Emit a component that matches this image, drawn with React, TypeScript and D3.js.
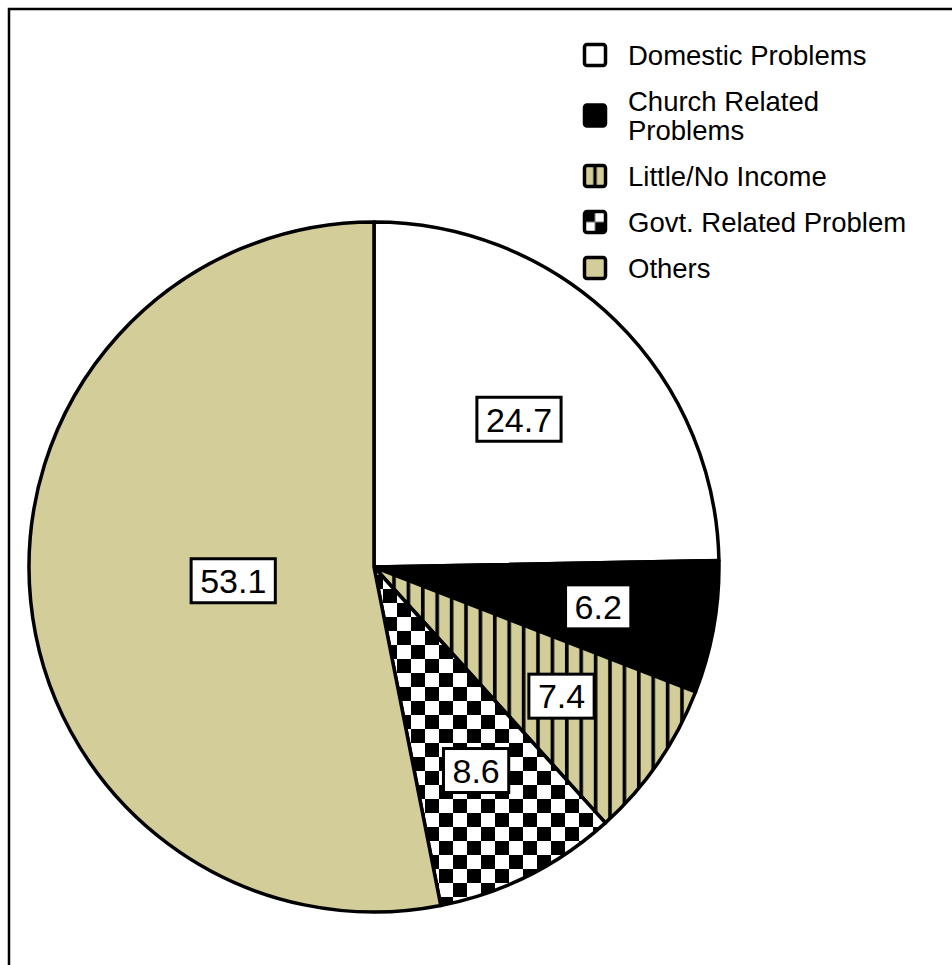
import React, { useEffect, useRef } from "react";
import * as d3 from "d3";

// Reasons reported, share of respondents (%)
const categories = [
  "Domestic Problems",
  "Church Related Problems",
  "Little/No Income",
  "Govt. Related Problem",
  "Others",
];
const values = [24.7, 6.2, 7.4, 8.6, 53.1];
const valueLabels = ["24.7", "6.2", "7.4", "8.6", "53.1"];
const fills = ["solid-white", "solid-black", "stripes", "checker", "solid-beige"];

const W = 952;
const H = 965;
const FONT = "'Liberation Sans', Arial, Helvetica, sans-serif";
const BEIGE = "#d3cd99";

export default function App() {
  const ref = useRef<SVGSVGElement>(null);

  useEffect(() => {
    const svg = d3.select(ref.current);
    svg.selectAll("*").remove();

    const defs = svg.append("defs");

    // vertical stripes for the slice
    const stripes = defs
      .append("pattern")
      .attr("id", "stripes")
      .attr("patternUnits", "userSpaceOnUse")
      .attr("width", 14.4)
      .attr("height", 20);
    stripes.append("rect").attr("width", 14.4).attr("height", 20).attr("fill", BEIGE);
    stripes.append("rect").attr("x", 3.8).attr("width", 3.6).attr("height", 20).attr("fill", "#000");

    // checkerboard for the slice
    const checker = defs
      .append("pattern")
      .attr("id", "checker")
      .attr("patternUnits", "userSpaceOnUse")
      .attr("x", 9)
      .attr("y", 8)
      .attr("width", 28)
      .attr("height", 28);
    checker.append("rect").attr("width", 28).attr("height", 28).attr("fill", "#fff");
    checker.append("rect").attr("x", 14).attr("y", 0).attr("width", 14).attr("height", 14).attr("fill", "#000");
    checker.append("rect").attr("x", 0).attr("y", 14).attr("width", 14).attr("height", 14).attr("fill", "#000");

    // small-scale versions for the legend swatches
    const lStripes = defs
      .append("pattern")
      .attr("id", "lg-stripes")
      .attr("patternUnits", "objectBoundingBox")
      .attr("patternContentUnits", "objectBoundingBox")
      .attr("width", 1)
      .attr("height", 1);
    lStripes.append("rect").attr("width", 1).attr("height", 1).attr("fill", BEIGE);
    lStripes.append("rect").attr("x", 0.42).attr("width", 0.16).attr("height", 1).attr("fill", "#000");

    const lChecker = defs
      .append("pattern")
      .attr("id", "lg-checker")
      .attr("patternUnits", "objectBoundingBox")
      .attr("patternContentUnits", "objectBoundingBox")
      .attr("width", 1)
      .attr("height", 1);
    lChecker.append("rect").attr("width", 1).attr("height", 1).attr("fill", "#fff");
    lChecker.append("rect").attr("width", 0.5).attr("height", 0.5).attr("fill", "#000");
    lChecker.append("rect").attr("x", 0.5).attr("y", 0.5).attr("width", 0.5).attr("height", 0.5).attr("fill", "#000");

    const fillFor = (kind: string, legend = false) => {
      switch (kind) {
        case "solid-white":
          return "#fff";
        case "solid-black":
          return "#000";
        case "solid-beige":
          return BEIGE;
        case "stripes":
          return legend ? "url(#lg-stripes)" : "url(#stripes)";
        case "checker":
          return legend ? "url(#lg-checker)" : "url(#checker)";
      }
      return "#fff";
    };

    svg.append("rect").attr("width", W).attr("height", H).attr("fill", "#fff");

    // frame (top and left edges)
    svg
      .append("path")
      .attr("d", `M9,${H} L9,9 L${W},9`)
      .attr("fill", "none")
      .attr("stroke", "#000")
      .attr("stroke-width", 2.5);

    // pie
    const cx = 374;
    const cy = 567;
    const R = 345;

    const pie = d3
      .pie<number>()
      .sort(null)
      .value((d) => d)
      .startAngle(0)
      .endAngle(2 * Math.PI);
    const arcs = pie(values);
    const arc = d3.arc<d3.PieArcDatum<number>>().innerRadius(0).outerRadius(R);

    const g = svg.append("g").attr("transform", `translate(${cx},${cy})`);
    g.selectAll("path.slice")
      .data(arcs)
      .join("path")
      .attr("class", "slice")
      .attr("d", arc)
      .attr("fill", (_, i) => fillFor(fills[i]))
      .attr("stroke", "#000")
      .attr("stroke-width", 3.5)
      .attr("stroke-linejoin", "round");

    // value labels in boxes, placed along each slice's mid angle
    const labelRadius = [0.6, 0.66, 0.66, 0.66, 0.41];
    arcs.forEach((a, i) => {
      const r = R * labelRadius[i];
      const [lx, ly] = d3.arc<d3.PieArcDatum<number>>().innerRadius(r).outerRadius(r).centroid(a);
      const lg = g.append("g").attr("transform", `translate(${lx},${ly})`);
      const rect = lg.append("rect");
      const t = lg
        .append("text")
        .attr("text-anchor", "middle")
        .attr("dy", "0.36em")
        .attr("font-family", FONT)
        .attr("font-size", 34)
        .attr("fill", "#000")
        .text(valueLabels[i]);
      const tw = (t.node() as SVGTextElement).getComputedTextLength();
      const bw = tw + 18;
      const bh = 44;
      rect
        .attr("x", -bw / 2)
        .attr("y", -bh / 2)
        .attr("width", bw)
        .attr("height", bh)
        .attr("fill", "#fff")
        .attr("stroke", "#000")
        .attr("stroke-width", 3);
    });

    // legend
    const lx = 583;
    const tx = 628;
    const fontSize = 27.5;
    const maxTextW = 290;
    const lineH = 29;
    const rowGap = 46;
    let baseline = 65;
    const legend = svg.append("g");
    categories.forEach((name, i) => {
      // wrap long entries onto two lines
      const probe = legend
        .append("text")
        .attr("font-family", FONT)
        .attr("font-size", fontSize)
        .text(name);
      let lines = [name];
      if ((probe.node() as SVGTextElement).getComputedTextLength() > maxTextW) {
        const words = name.split(" ");
        lines = [words.slice(0, -1).join(" "), words[words.length - 1]];
      }
      probe.remove();

      const first = baseline;
      lines.forEach((ln, k) => {
        legend
          .append("text")
          .attr("x", tx)
          .attr("y", first + k * lineH)
          .attr("font-family", FONT)
          .attr("font-size", fontSize)
          .attr("fill", "#000")
          .text(ln);
      });
      const last = first + (lines.length - 1) * lineH;
      const mid = (first + last) / 2 - 10;
      const s = 21;
      legend
        .append("rect")
        .attr("x", lx + 1.5)
        .attr("y", mid - s / 2)
        .attr("width", s)
        .attr("height", s)
        .attr("rx", 2.5)
        .attr("fill", fillFor(fills[i], true))
        .attr("stroke", "#000")
        .attr("stroke-width", 3.5);
      baseline = last + rowGap;
    });
  }, []);

  return (
    <svg
      ref={ref}
      width={W}
      height={H}
      style={{ position: "absolute", left: 0, top: 0, display: "block" }}
    />
  );
}
